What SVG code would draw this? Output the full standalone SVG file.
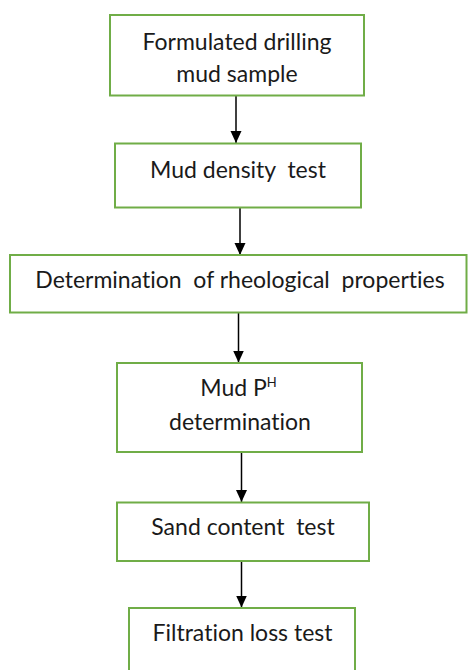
<svg xmlns="http://www.w3.org/2000/svg" width="468" height="670" viewBox="0 0 468 670">
  <style>
    .box { fill: #ffffff; stroke: #70AD47; stroke-width: 2; }
    .lbl { font-family: Lato, "Open Sans", "Liberation Sans", sans-serif; font-size: 23px; fill: #1a1a1a; text-anchor: middle; font-variant-ligatures: none; }
    .sup { font-size: 13px; }
    .conn { stroke: #000000; stroke-width: 1.5; fill: none; marker-end: url(#arrow); }
  </style>
  <defs>
    <marker id="arrow" viewBox="0 0 12 12" refX="12" refY="6" markerWidth="12" markerHeight="12" markerUnits="userSpaceOnUse" orient="auto">
      <path d="M0,0.5 L12,6 L0,11.5 z" fill="#000000"/>
    </marker>
  </defs>
  <rect width="468" height="670" fill="#ffffff"/>

  <g id="connectors">
    <line class="conn" x1="236" y1="96" x2="236" y2="143"/>
    <line class="conn" x1="240" y1="208" x2="240" y2="255"/>
    <line class="conn" x1="238.5" y1="313" x2="238.5" y2="362.5"/>
    <line class="conn" x1="241.5" y1="452.5" x2="241.5" y2="502"/>
    <line class="conn" x1="241.5" y1="561.5" x2="241.5" y2="607.5"/>
  </g>

  <g id="node-formulated">
    <rect class="box" x="110" y="15" width="254" height="80.5"/>
    <text class="lbl" x="237" y="50">Formulated drilling</text>
    <text class="lbl" x="237" y="82">mud sample</text>
  </g>

  <g id="node-density">
    <rect class="box" x="115" y="143.5" width="246" height="64"/>
    <text class="lbl" x="238" y="177.5" xml:space="preserve">Mud density  test</text>
  </g>

  <g id="node-rheology">
    <rect class="box" x="10" y="255" width="456.5" height="57.5"/>
    <text class="lbl" x="240" y="287.5" xml:space="preserve">Determination  of rheological  properties</text>
  </g>

  <g id="node-ph">
    <rect class="box" x="117" y="363" width="245" height="89"/>
    <text class="lbl" x="238.5" y="396">Mud P<tspan class="sup" dy="-9">H</tspan></text>
    <text class="lbl" x="240" y="429.5">determination</text>
  </g>

  <g id="node-sand">
    <rect class="box" x="117" y="502.5" width="252" height="58.5"/>
    <text class="lbl" x="243" y="535" xml:space="preserve">Sand content  test</text>
  </g>

  <g id="node-filtration">
    <rect class="box" x="129" y="608" width="226" height="80"/>
    <text class="lbl" x="242.5" y="641">Filtration loss test</text>
  </g>
</svg>
